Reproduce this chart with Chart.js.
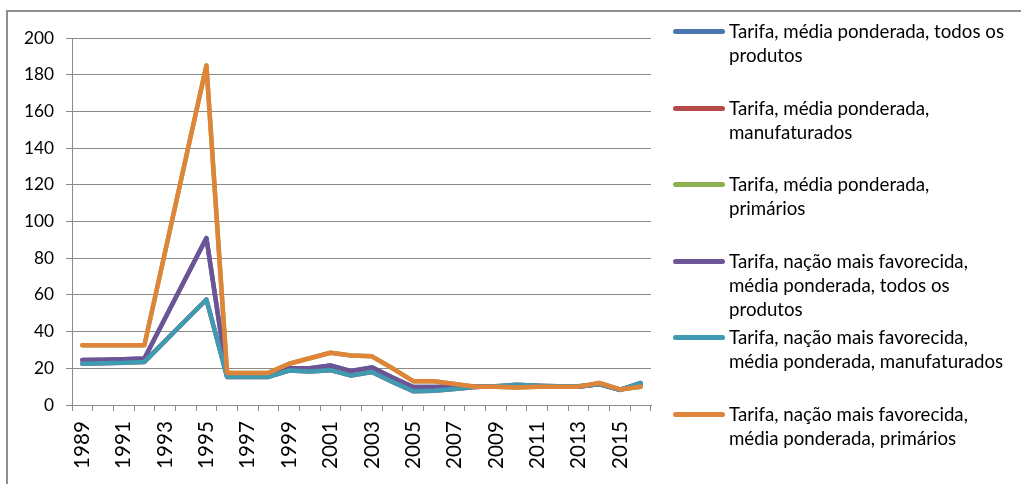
<!DOCTYPE html>
<html>
<head>
<meta charset="utf-8">
<script src="https://cdn.jsdelivr.net/npm/chart.js@4"></script>
<style>
  html, body { margin: 0; padding: 0; background: #fff; }
  #wrap { position: relative; width: 1021px; height: 484px; overflow: hidden; font-family: Lato, sans-serif; }
  #frame { position: absolute; left: 6px; top: 10px; right: -10px; bottom: -10px;
           border-left: 2px solid #8e8e8e; border-top: 2px solid #8e8e8e; }
  #chart { position: absolute; left: 0; top: 0; }
  #legend { position: absolute; left: 0; top: 0; }
  .item { position: absolute; left: 673px; }
  .swatch { position: absolute; left: 0; top: 10px; width: 52px; height: 5px; border-radius: 3px; }
  .label { position: absolute; left: 56px; top: 0; white-space: nowrap; font-size: 18.7px; line-height: 24px; color: #000; }
</style>
</head>
<body>
<div id="wrap">
  <div id="frame"></div>
  <canvas id="chart" width="1021" height="484"></canvas>
  <div id="legend"></div>
</div>
<script>
const years = [
  "1989", "1990", "1991", "1992", "1993", "1994", "1995", "1996", "1997", "1998",
  "1999", "2000", "2001", "2002", "2003", "2004", "2005", "2006", "2007", "2008",
  "2009", "2010", "2011", "2012", "2013", "2014", "2015", "2016",
];

// applied weighted tariffs (mostly hidden under the MFN lines)
const wAll = [24.5, 24.7, 25, 25.3, null, null, 91, 16, 16, 16, 20, 20, 21.5, 18.5, 20.5, 15, 9.8, 9.8, 10, 10, 10, 10.5, 10.3, 10, 10, 11.5, 8.3, 11.5];
const wManuf = [22.5, 22.8, 23, 23.5, null, null, 57.5, 15.3, 15.3, 15.3, 18.8, 18.3, 19, 16, 18, 12.5, 7.5, 7.8, 8.7, 9.8, 10.2, 11, 10.5, 10.2, 10.2, 11.3, 8.2, 12];
const wPrim = [32.5, 32.5, 32.5, 32.5, null, null, 185, 17.5, 17.5, 17.5, 22.5, 25.5, 28.5, 27, 26.5, 20, 13, 13, 11.5, 10, 10, 9.5, 10, 10, 10, 12, 8.5, 10];

// most favoured nation tariffs
const mfnAll = [24.5, 24.7, 25, 25.3, null, null, 91, 16, 16, 16, 20, 20, 21.5, 18.5, 20.5, 15, 9.8, 9.8, 10, 10, 10, 10.5, 10.3, 10, 10, 11.5, 8.3, 11.5];
const mfnManuf = [22.5, 22.8, 23, 23.5, null, null, 57.5, 15.3, 15.3, 15.3, 18.8, 18.3, 19, 16, 18, 12.5, 7.5, 7.8, 8.7, 9.8, 10.2, 11, 10.5, 10.2, 10.2, 11.3, 8.2, 12];
const mfnPrim = [32.5, 32.5, 32.5, 32.5, null, null, 185, 17.5, 17.5, 17.5, 22.5, 25.5, 28.5, 27, 26.5, 20, 13, 13, 11.5, 10, 10, 9.5, 10, 10, 10, 12, 8.5, 10];

const seriesNames = [
  ["Tarifa, média ponderada, todos os", "produtos"],
  ["Tarifa, média ponderada,", "manufaturados"],
  ["Tarifa, média ponderada,", "primários"],
  ["Tarifa, nação mais favorecida,", "média ponderada, todos os", "produtos"],
  ["Tarifa, nação mais favorecida,", "média ponderada, manufaturados"],
  ["Tarifa, nação mais favorecida,", "média ponderada, primários"],
];
const seriesData = [wAll, wManuf, wPrim, mfnAll, mfnManuf, mfnPrim];
const colors = ["#4a76ad", "#b34a47", "#8fb04f", "#6c5495", "#3f9bb2", "#e0843a"];

const yTicks = { min: 0, max: 200, step: 20 };
const gridColor = "#8a8a8a";

const datasets = seriesData.map((values, i) => ({
  label: seriesNames[i].join(" "),
  data: values,
  borderColor: colors[i],
  backgroundColor: colors[i],
  borderWidth: 4.5,
  pointRadius: 0,
  tension: 0,
  spanGaps: true,
  borderCapStyle: "round",
  borderJoinStyle: "round",
  order: seriesData.length - i, // later series on top
}));

const chart = new Chart(document.getElementById("chart"), {
  type: "line",
  data: { labels: years, datasets },
  options: {
    responsive: false,
    animation: false,
    layout: { padding: { top: 38, right: 370, bottom: 0, left: 0 } },
    plugins: { legend: { display: false }, tooltip: { enabled: false } },
    scales: {
      x: {
        offset: true,
        afterFit: (scale) => { scale.height = 79; },
        grid: { drawOnChartArea: false, offset: true, tickLength: 6, color: gridColor },
        border: { color: gridColor },
        ticks: {
          autoSkip: false,
          minRotation: 90,
          maxRotation: 90,
          padding: 10,
          color: "#000",
          font: { family: "Lato", size: 20.7 },
          callback: (v, i) => (i % 2 === 0 ? years[i] : ""),
        },
      },
      y: {
        min: yTicks.min,
        max: yTicks.max,
        afterFit: (scale) => { scale.width = 72; },
        grid: { color: gridColor, tickLength: 6 },
        border: { color: gridColor },
        ticks: {
          stepSize: yTicks.step,
          padding: 12,
          color: "#000",
          font: { family: "Lato", size: 17.3 },
        },
      },
    },
  },
});

// html legend on the right
const legend = document.getElementById("legend");
chart.data.datasets.forEach((ds, i) => {
  const item = document.createElement("div");
  item.className = "item";
  item.style.top = (19 + i * 76.6) + "px";
  item.innerHTML = `<div class="swatch" style="background:${ds.borderColor}"></div>
    <div class="label">${seriesNames[i].join("<br>")}</div>`;
  legend.appendChild(item);
});
</script>
</body>
</html>
